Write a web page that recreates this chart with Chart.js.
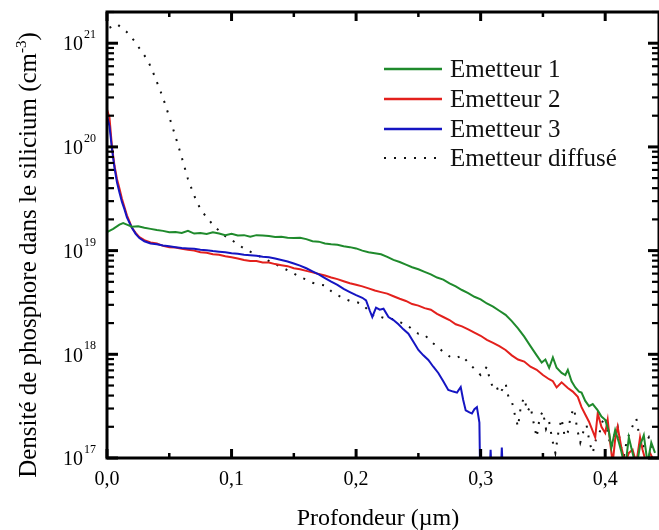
<!DOCTYPE html>
<html><head><meta charset="utf-8">
<script src="https://cdn.jsdelivr.net/npm/chart.js@4/dist/chart.umd.min.js"></script>
<style>html,body{margin:0;padding:0;background:#fff}canvas{display:block}</style>
</head><body>
<canvas id="c" width="659" height="530"></canvas>
<script>
// ---- data (depth in µm, concentration in cm^-3) ----
const seriesNames = ['Emetteur 1','Emetteur 2','Emetteur 3','Emetteur diffusé'];
const xTicks = [0, 0.1, 0.2, 0.3, 0.4];
const xTickLabels = ['0,0','0,1','0,2','0,3','0,4'];
const xMinorTicks = [0.05, 0.15, 0.25, 0.35];
const yDecades = [1e17, 1e18, 1e19, 1e20, 1e21];
const yExponents = ['17','18','19','20','21'];
const xTitle = 'Profondeur (µm)';
const yTitleMain = 'Densité de phosphore dans le silicium (cm';
const yTitleSup = '-3';

const depthE1 = [0,0.005,0.010,0.013,0.015,0.020,0.025,0.030,0.035,0.040,0.045,0.050,0.055,0.060,0.065,0.070,0.075,0.080,0.085,0.090,0.095,0.100,0.105,0.110,0.115,0.120,0.125,0.130,0.135,0.140,0.145,0.150,0.155,0.160,0.165,0.170,0.175,0.180,0.185,0.190,0.195,0.200,0.205,0.210,0.215,0.220,0.225,0.230,0.235,0.240,0.245,0.250,0.255,0.260,0.265,0.270,0.275,0.280,0.285,0.290,0.295,0.300,0.305,0.310,0.315,0.320,0.325,0.330,0.335,0.340,0.345,0.349,0.352,0.355,0.358,0.361,0.365,0.368,0.370,0.373,0.376,0.379,0.381,0.384,0.387,0.390,0.394,0.397,0.400,0.403,0.405,0.408,0.411,0.413,0.416,0.419,0.422,0.425,0.428,0.431,0.434,0.437,0.440];
const e1 = [1.51e19,1.62e19,1.78e19,1.84e19,1.80e19,1.70e19,1.72e19,1.66e19,1.62e19,1.58e19,1.55e19,1.50e19,1.51e19,1.48e19,1.55e19,1.46e19,1.48e19,1.45e19,1.50e19,1.46e19,1.41e19,1.45e19,1.40e19,1.41e19,1.36e19,1.41e19,1.40e19,1.38e19,1.35e19,1.36e19,1.33e19,1.32e19,1.33e19,1.29e19,1.23e19,1.22e19,1.17e19,1.15e19,1.14e19,1.10e19,1.08e19,1.05e19,1.00e19,9.66e18,9.44e18,9.23e18,8.71e18,8.13e18,7.76e18,7.33e18,6.92e18,6.61e18,6.24e18,5.89e18,5.50e18,5.25e18,4.84e18,4.52e18,4.17e18,3.89e18,3.59e18,3.39e18,3.09e18,2.88e18,2.63e18,2.40e18,2.09e18,1.78e18,1.48e18,1.20e18,9.77e17,8.32e17,8.91e17,7.41e17,9.33e17,7.41e17,6.61e17,6.31e17,7.08e17,5.50e17,4.79e17,4.37e17,4.27e17,3.55e17,3.16e17,3.31e17,2.88e17,2.51e17,2.34e17,1.78e17,1.26e17,1.86e17,1.41e17,1.15e17,7.94e16,1.58e17,1.12e17,7.94e16,1.32e17,1.66e17,8.9e16,1.41e17,1.12e17];

const depthE2 = [0,0.002,0.004,0.006,0.008,0.010,0.012,0.014,0.016,0.018,0.020,0.023,0.026,0.030,0.035,0.040,0.045,0.050,0.055,0.060,0.065,0.070,0.075,0.080,0.085,0.090,0.095,0.100,0.105,0.110,0.115,0.120,0.125,0.130,0.135,0.140,0.145,0.150,0.155,0.160,0.165,0.170,0.175,0.180,0.185,0.190,0.195,0.200,0.205,0.210,0.215,0.220,0.225,0.230,0.235,0.240,0.245,0.250,0.255,0.260,0.265,0.270,0.275,0.280,0.285,0.290,0.295,0.300,0.305,0.310,0.315,0.320,0.325,0.330,0.335,0.340,0.345,0.350,0.355,0.358,0.361,0.365,0.370,0.374,0.378,0.381,0.384,0.387,0.390,0.392,0.394,0.397,0.400,0.402,0.404,0.406,0.408,0.410,0.413,0.416,0.419,0.422,0.425,0.428,0.430,0.433,0.436,0.440];
const e2 = [2.29e20,1.91e20,1.00e20,6.61e19,4.90e19,3.98e19,3.16e19,2.63e19,2.19e19,1.91e19,1.66e19,1.48e19,1.35e19,1.26e19,1.20e19,1.17e19,1.11e19,1.08e19,1.07e19,1.04e19,1.02e19,1.00e19,9.66e18,9.55e18,9.23e18,9.12e18,8.81e18,8.61e18,8.41e18,8.13e18,7.94e18,7.94e18,7.67e18,7.67e18,7.41e18,7.24e18,7.08e18,6.76e18,6.61e18,6.38e18,6.17e18,5.96e18,5.75e18,5.50e18,5.31e18,5.07e18,4.84e18,4.68e18,4.52e18,4.32e18,4.12e18,3.98e18,3.85e18,3.63e18,3.43e18,3.27e18,3.05e18,2.95e18,2.79e18,2.69e18,2.45e18,2.29e18,2.14e18,1.95e18,1.86e18,1.74e18,1.62e18,1.51e18,1.38e18,1.29e18,1.20e18,1.10e18,9.77e17,8.91e17,8.51e17,7.59e17,7.08e17,6.31e17,5.75e17,5.50e17,4.79e17,5.37e17,4.73e17,4.37e17,3.89e17,3.09e17,2.63e17,2.24e17,1.82e17,1.58e17,2.69e17,2.00e17,1.74e17,2.34e17,1.41e17,8.9e16,1.51e17,2.00e17,1.26e17,8.9e16,1.12e17,1.20e17,8.9e16,1.58e17,1.20e17,8.9e16,1.12e17,8.9e16];

const depthE3 = [0,0.002,0.004,0.006,0.008,0.010,0.012,0.014,0.016,0.018,0.020,0.023,0.026,0.030,0.035,0.040,0.045,0.050,0.055,0.060,0.065,0.070,0.075,0.080,0.085,0.090,0.095,0.100,0.105,0.110,0.115,0.120,0.125,0.130,0.135,0.140,0.145,0.150,0.155,0.160,0.165,0.170,0.175,0.180,0.185,0.190,0.195,0.200,0.205,0.208,0.211,0.213,0.216,0.219,0.222,0.226,0.230,0.234,0.238,0.242,0.246,0.250,0.254,0.258,0.262,0.266,0.270,0.274,0.278,0.281,0.284,0.286,0.288,0.291,0.293,0.295,0.297,0.299,0.300,0.306,0.308,0.310,0.315,0.317,0.319];
const e3 = [2.00e20,1.58e20,9.55e19,6.31e19,4.57e19,3.63e19,2.95e19,2.51e19,2.09e19,1.86e19,1.66e19,1.45e19,1.32e19,1.23e19,1.17e19,1.15e19,1.12e19,1.10e19,1.08e19,1.06e19,1.05e19,1.04e19,1.02e19,1.01e19,9.89e18,9.77e18,9.66e18,9.44e18,9.33e18,9.12e18,9.02e18,8.91e18,8.71e18,8.61e18,8.41e18,8.13e18,7.85e18,7.50e18,7.16e18,6.76e18,6.31e18,5.89e18,5.43e18,5.01e18,4.68e18,4.27e18,3.98e18,3.72e18,3.51e18,3.31e18,2.63e18,2.29e18,2.82e18,2.69e18,2.75e18,2.29e18,2.14e18,1.95e18,1.74e18,1.58e18,1.32e18,1.10e18,9.77e17,8.81e17,7.59e17,6.61e17,5.50e17,4.53e17,4.37e17,4.27e17,4.84e17,3.63e17,2.88e17,2.75e17,2.69e17,2.95e17,3.09e17,2.19e17,3.16e16,3.16e16,1.20e17,3.16e16,3.16e16,1.26e17,3.16e16];

const depthDiff = [0.002,0.008,0.016,0.022,0.027,0.032,0.036,0.039,0.042,0.046,0.050,0.055,0.060,0.065,0.070,0.075,0.080,0.085,0.090,0.095,0.100,0.105,0.110,0.115,0.120,0.125,0.130,0.135,0.140,0.145,0.150,0.155,0.160,0.165,0.170,0.175,0.180,0.185,0.190,0.195,0.200,0.205,0.210,0.215,0.220,0.225,0.230,0.235,0.240,0.245,0.250,0.255,0.260,0.265,0.270,0.275,0.280,0.285,0.290,0.295,0.300,0.3025,0.305,0.3075,0.310,0.3125,0.315,0.3175,0.320,0.3225,0.325,0.3275,0.330,0.3325,0.335,0.3375,0.340,0.3425,0.345,0.3475,0.350,0.3525,0.355,0.3575,0.360,0.3625,0.365,0.3675,0.370,0.3725,0.375,0.3775,0.380,0.3825,0.385,0.3875,0.390,0.3925,0.395,0.3975,0.400,0.4025,0.405,0.4075,0.410,0.4125,0.415,0.4175,0.420,0.4225,0.425,0.4275,0.430,0.4325,0.435,0.4375,0.440];
const diff = [1.41e21,1.53e21,1.28e21,1.05e21,8.59e20,7.05e20,5.64e20,4.52e20,3.70e20,2.73e20,1.95e20,1.26e20,7.94e19,4.90e19,3.39e19,2.51e19,2.09e19,1.78e19,1.55e19,1.38e19,1.27e19,1.15e19,1.05e19,9.77e18,9.12e18,8.51e18,7.94e18,7.41e18,6.92e18,6.46e18,6.03e18,5.56e18,5.25e18,4.90e18,4.73e18,4.62e18,4.07e18,3.72e18,3.47e18,3.27e18,3.20e18,3.05e18,2.63e18,2.29e18,2.29e18,2.19e18,2.19e18,2.04e18,1.95e18,1.74e18,1.58e18,1.55e18,1.32e18,1.20e18,1.05e18,9.55e17,9.12e17,9.77e17,8.32e17,7.24e17,6.31e17,6.9e17,7.59e17,5.6e17,4.79e17,5.0e17,4.17e17,4.6e17,5.25e17,3.8e17,3.55e17,2.6e17,2.00e17,3.3e17,3.80e17,2.8e17,3.16e17,2.2e17,1.58e17,2.5e17,2.82e17,1.9e17,2.24e17,1.5e17,1.12e17,1.8e17,2.40e17,1.6e17,1.78e17,2.6e17,3.02e17,1.9e17,1.41e17,1.8e17,2.09e17,1.4e17,1.12e17,1.5e17,1.66e17,2.2e17,2.51e17,1.6e17,1.26e17,1.7e17,2.00e17,1.3e17,1.05e17,1.5e17,1.78e17,2.1e17,2.40e17,1.6e17,1.26e17,1.4e17,1.58e17,1.2e17,1.12e17];

const colors = ['#1f8a2c','#e3201c','#1515c2','#111111'];

function pts(xs, ys){ return xs.map((v,i)=>({x:v, y:ys[i]})); }

const SERIF = '"Liberation Serif","DejaVu Serif",serif';

const framePlugin = {
  id: 'framePlugin',
  afterDraw(chart){
    const {ctx, chartArea:a, scales:{x, y}} = chart;
    ctx.save();
    ctx.strokeStyle = '#000'; ctx.fillStyle = '#000';
    ctx.setLineDash([]);
    ctx.lineWidth = 3;
    ctx.strokeRect(a.left, a.top, a.right - a.left, a.bottom - a.top);
    const line = (x1,y1,x2,y2,w)=>{ctx.lineWidth=w;ctx.beginPath();ctx.moveTo(x1,y1);ctx.lineTo(x2,y2);ctx.stroke();};
    xTicks.forEach(v=>{const p=x.getPixelForValue(v); if(p>a.right) return;
      line(p,a.bottom,p,a.bottom-9,3); line(p,a.top,p,a.top+9,3);});
    xMinorTicks.forEach(v=>{const p=x.getPixelForValue(v);
      line(p,a.bottom,p,a.bottom-5,2.5); line(p,a.top,p,a.top+5,2.5);});
    yDecades.forEach((d)=>{
      const p=y.getPixelForValue(d);
      line(a.left,p,a.left+11,p,3); line(a.right,p,a.right-11,p,3);
      for(let m=2;m<=9;m++){const v=d*m; if(v>y.max) break; const q=y.getPixelForValue(v);
        line(a.left,q,a.left+7,q,2.2); line(a.right,q,a.right-7,q,2.2);}
    });
    ctx.font = '20px '+SERIF; ctx.textAlign='center'; ctx.textBaseline='middle';
    xTicks.forEach((v,i)=>{ctx.fillText(xTickLabels[i], x.getPixelForValue(v), 480);});
    yDecades.forEach((d,i)=>{
      const p=y.getPixelForValue(d);
      ctx.font='20px '+SERIF; ctx.textAlign='right'; ctx.textBaseline='middle';
      ctx.fillText('10', 83, p+2);
      ctx.font='12px '+SERIF; ctx.textAlign='left';
      ctx.fillText(yExponents[i], 84, p-8);
    });
    ctx.font='24px '+SERIF; ctx.textAlign='center'; ctx.textBaseline='alphabetic';
    ctx.fillText(xTitle, 378, 525);
    ctx.save();
    ctx.translate(36, 255); ctx.rotate(-Math.PI/2);
    ctx.font='25px '+SERIF;
    const wMain = ctx.measureText(yTitleMain).width;
    ctx.font='15px '+SERIF;
    const wSup = ctx.measureText(yTitleSup).width;
    ctx.font='25px '+SERIF;
    const wClose = ctx.measureText(')').width;
    const total = wMain + wSup + wClose;
    let sx = -total/2;
    ctx.textAlign='left';
    ctx.fillText(yTitleMain, sx, 0); sx += wMain;
    ctx.font='15px '+SERIF; ctx.fillText(yTitleSup, sx, -10); sx += wSup;
    ctx.font='25px '+SERIF; ctx.fillText(')', sx, 0);
    ctx.restore();
    const rows=[69,99,129,158];
    seriesNames.forEach((n,i)=>{
      ctx.strokeStyle=colors[i];
      if(i===3){ctx.setLineDash([2,8]); ctx.lineWidth=2;} else {ctx.setLineDash([]); ctx.lineWidth=2.6;}
      ctx.beginPath(); ctx.moveTo(384,rows[i]); ctx.lineTo(442,rows[i]); ctx.stroke();
      ctx.setLineDash([]);
      ctx.fillStyle='#111'; ctx.font='25px '+SERIF; ctx.textAlign='left'; ctx.textBaseline='middle';
      ctx.fillText(n, 450, rows[i]+1);
    });
    ctx.restore();
  }
};

new Chart(document.getElementById('c'), {
  type: 'line',
  data: {
    datasets: [
      {label: seriesNames[0], data: pts(depthE1, e1), borderColor: colors[0], borderWidth: 2},
      {label: seriesNames[2], data: pts(depthE3, e3), borderColor: colors[2], borderWidth: 2},
      {label: seriesNames[1], data: pts(depthE2, e2), borderColor: colors[1], borderWidth: 2},
      {label: seriesNames[3], data: pts(depthDiff, diff), borderColor: colors[3], borderWidth: 2, borderDash: [2, 8]}
    ]
  },
  options: {
    responsive: false,
    devicePixelRatio: 1,
    animation: false,
    events: [],
    layout: {padding: {left: 107, top: 12, right: -2, bottom: 72}},
    elements: {point: {radius: 0}, line: {tension: 0}},
    plugins: {legend: {display: false}, tooltip: {enabled: false}},
    scales: {
      x: {type: 'linear', display: false, min: 0, max: 0.4432},
      y: {type: 'logarithmic', display: false, min: 1e17, max: 2e21}
    }
  },
  plugins: [framePlugin]
});
</script>
</body></html>
